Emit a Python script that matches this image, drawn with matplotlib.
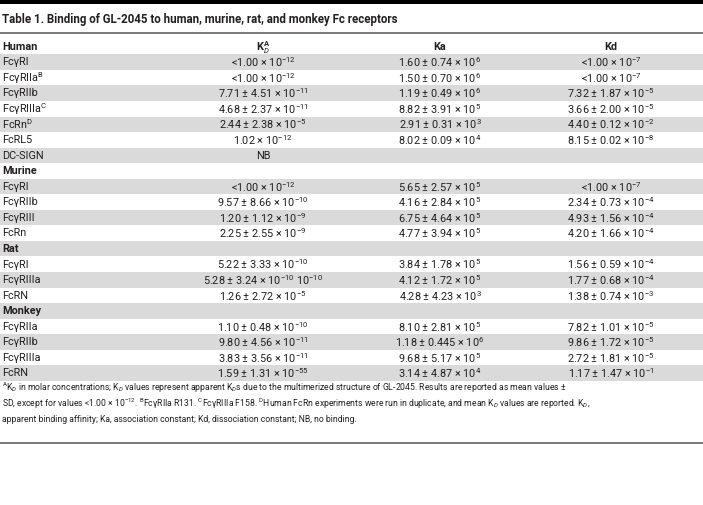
import re
import matplotlib
matplotlib.use("Agg")
import matplotlib.pyplot as plt

FONT = "Roboto"

plt.rcParams['font.family'] = [FONT, 'DejaVu Sans']
plt.rcParams['mathtext.fontset'] = 'custom'
plt.rcParams['mathtext.rm'] = FONT
plt.rcParams['mathtext.it'] = FONT + ':italic'
plt.rcParams['mathtext.bf'] = FONT + ':bold'
plt.rcParams['mathtext.default'] = 'regular'

title = "Table 1. Binding of GL-2045 to human, murine, rat, and monkey Fc receptors"
columns = ["Human", r"K$_{\mathit{D}}^{A}$", "Ka", "Kd"]

# rows: label, KD, Ka, Kd ; section rows have empty values
labels = ["FcγRI", "FcγRIIa^B", "FcγRIIb", "FcγRIIIa^C", "FcRn^D", "FcRL5", "DC-SIGN",
          "Murine", "FcγRI", "FcγRIIb", "FcγRIII", "FcRn",
          "Rat", "FcγRI", "FcγRIIIa", "FcRN",
          "Monkey", "FcγRIIa", "FcγRIIb", "FcγRIIIa", "FcRN"]
kd_app = ["<1.00 × 10^-12", "<1.00 × 10^-12", "7.71 ± 4.51 × 10^-11", "4.68 ± 2.37 × 10^-11",
          "2.44 ± 2.38 × 10^-5", "1.02 × 10^-12", "NB",
          "", "<1.00 × 10^-12", "9.57 ± 8.66 × 10^-10", "1.20 ± 1.12 × 10^-9", "2.25 ± 2.55 × 10^-9",
          "", "5.22 ± 3.33 × 10^-10", "5.28 ± 3.24 × 10^-10 10^-10", "1.26 ± 2.72 × 10^-5",
          "", "1.10 ± 0.48 × 10^-10", "9.80 ± 4.56 × 10^-11", "3.83 ± 3.56 × 10^-11", "1.59 ± 1.31 × 10^-55"]
ka = ["1.60 ± 0.74 × 10^6", "1.50 ± 0.70 × 10^6", "1.19 ± 0.49 × 10^6", "8.82 ± 3.91 × 10^5",
      "2.91 ± 0.31 × 10^3", "8.02 ± 0.09 × 10^4", "",
      "", "5.65 ± 2.57 × 10^5", "4.16 ± 2.84 × 10^5", "6.75 ± 4.64 × 10^5", "4.77 ± 3.94 × 10^5",
      "", "3.84 ± 1.78 × 10^5", "4.12 ± 1.72 × 10^5", "4.28 ± 4.23 × 10^3",
      "", "8.10 ± 2.81 × 10^5", "1.18 ± 0.445 × 10^6", "9.68 ± 5.17 × 10^5", "3.14 ± 4.87 × 10^4"]
kd = ["<1.00 × 10^-7", "<1.00 × 10^-7", "7.32 ± 1.87 × 10^-5", "3.66 ± 2.00 × 10^-5",
      "4.40 ± 0.12 × 10^-2", "8.15 ± 0.02 × 10^-8", "",
      "", "<1.00 × 10^-7", "2.34 ± 0.73 × 10^-4", "4.93 ± 1.56 × 10^-4", "4.20 ± 1.66 × 10^-4",
      "", "1.56 ± 0.59 × 10^-4", "1.77 ± 0.68 × 10^-4", "1.38 ± 0.74 × 10^-3",
      "", "7.82 ± 1.01 × 10^-5", "9.86 ± 1.72 × 10^-5", "2.72 ± 1.81 × 10^-5", "1.17 ± 1.47 × 10^-1"]
sections = ["Murine", "Rat", "Monkey"]

footnotes = [
    r"$^{A}$K$_{\mathit{D}}$ in molar concentrations; K$_{\mathit{D}}$ values represent apparent K$_{\mathit{D}}$s due to the multimerized structure of GL-2045. Results are reported as mean values ±",
    r"SD, except for values <1.00 × 10$^{-12}$. $^{B}$FcγRIIa R131. $^{C}$FcγRIIIa F158. $^{D}$Human FcRn experiments were run in duplicate, and mean K$_{\mathit{D}}$ values are reported. K$_{\mathit{D}}$,",
    "apparent binding affinity; Ka, association constant; Kd, dissociation constant; NB, no binding.",
]


def fmt(s):
    return re.sub(r"\^(\S+)", r"$^{\1}$", s)


TXT = '#231f20'
FS = 7.8

fig = plt.figure(figsize=(7.03, 5.05), dpi=100)
ax = fig.add_axes([0, 0, 1, 1])
ax.set_xlim(0, 703)
ax.set_ylim(505, 0)
ax.axis('off')

ax.axhspan(0, 3.5, color='black', lw=0)
ax.text(2, 19, title, fontsize=8.3, fontweight='bold', color=TXT, va='center', ha='left')
ax.axhline(33, color='#555555', lw=1.1)

col_x = [2, 263, 440, 611]
head_y = 47.5
ax.text(col_x[0], head_y, columns[0], fontsize=FS, fontweight='bold', color=TXT, va='center', ha='left')
for x, c in zip(col_x[1:], columns[1:]):
    ax.text(x, head_y, c, fontsize=FS, fontweight='bold', color=TXT, va='center', ha='center')

top0 = 54.3
rh = 15.55
for i, lab in enumerate(labels):
    top = top0 + i * rh
    if i % 2 == 0:
        ax.axhspan(top, top + rh, color='#dadada', lw=0)
    yc = top + rh / 2 + 0.3
    bold = 'bold' if lab in sections else 'normal'
    ax.text(col_x[0], yc, fmt(lab), fontsize=FS, fontweight=bold, color=TXT, va='center', ha='left')
    for x, v in zip(col_x[1:], [kd_app[i], ka[i], kd[i]]):
        if v:
            ax.text(x, yc, fmt(v), fontsize=FS, color=TXT, va='center', ha='center')

for j, line in enumerate(footnotes):
    ax.text(2, 388 + j * 16, line, fontsize=6.2, color=TXT, va='center', ha='left')

ax.axhline(443, color='#555555', lw=1.1)

fig.savefig("out.png", dpi=100)
